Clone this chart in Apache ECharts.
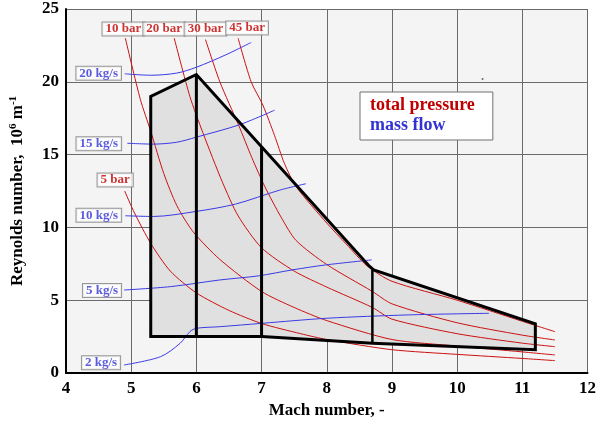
<!DOCTYPE html>
<html>
<head>
<meta charset="utf-8">
<script src="https://cdn.jsdelivr.net/npm/echarts@6/dist/echarts.min.js"></script>
<style>html,body{margin:0;padding:0;background:#fff;}#c{width:599px;height:427px;}</style>
</head>
<body>
<div id="c"></div>
<script>
// ---- data (Mach number, Reynolds number 10^6/m) ----
const xTicks = [4, 5, 6, 7, 8, 9, 10, 11, 12];
const yTicks = [0, 5, 10, 15, 20, 25];

const pressureNames = ['5 bar', '10 bar', '20 bar', '30 bar', '45 bar'];
const p5  = [[4.9,12.5],[5.05,11.0],[5.3,8.9],[5.6,7.0],[6.0,5.5],[6.5,4.3],[7.0,3.4],[7.6,2.7],[8.0,2.3],[9.0,1.6],[10.0,1.28],[11.0,1.0],[11.5,0.85]];
const p10 = [[4.91,23.0],[5.14,18.8],[5.3,16.6],[5.5,13.7],[5.7,11.5],[5.95,9.7],[6.36,7.8],[7.0,5.6],[7.5,4.5],[8.0,3.6],[9.0,2.3],[10.0,1.85],[11.0,1.45],[11.5,1.24]];
const p20 = [[5.66,23.0],[5.9,19.0],[6.1,16.5],[6.4,13.1],[6.64,10.8],[7.0,8.6],[7.5,7.0],[8.0,5.9],[8.7,4.5],[9.0,3.7],[10.0,2.7],[11.0,2.05],[11.5,1.81]];
const p30 = [[6.14,22.9],[6.36,20.0],[6.65,17.0],[6.85,14.8],[7.05,12.8],[7.3,10.7],[7.53,9.1],[8.0,7.45],[8.7,5.6],[9.0,4.75],[10.0,3.45],[11.0,2.6],[11.5,2.27]];
const p45 = [[6.64,23.0],[6.84,20.0],[7.02,18.4],[7.2,16.3],[7.35,14.4],[7.53,12.8],[8.0,10.3],[8.3,8.85],[8.62,7.35],[9.0,6.3],[10.0,5.0],[11.0,3.55],[11.5,2.84]];

const flowNames = ['20 kg/s', '15 kg/s', '10 kg/s', '5 kg/s', '2 kg/s'];
const m20 = [[4.9,20.55],[5.3,20.45],[5.7,20.6],[6.0,21.0],[6.45,21.85],[6.84,22.7]];
const m15 = [[4.94,15.78],[5.34,15.72],[5.7,15.85],[6.0,16.2],[6.66,17.05],[7.2,18.05]];
const m10 = [[4.91,10.8],[5.34,10.75],[6.0,11.1],[6.6,11.6],[7.27,12.55],[7.68,13.0]];
const m5  = [[4.89,5.7],[5.6,5.93],[6.36,6.39],[6.95,6.67],[7.47,7.08],[7.98,7.42],[8.69,7.77]];
const m2  = [[4.89,0.55],[5.45,1.12],[5.75,2.04],[5.9,2.84],[6.0,3.07],[6.36,3.18],[7.0,3.41],[8.0,3.76],[9.25,3.99],[10.49,4.1]];

const envelope = [[5.3,2.5],[5.3,19.0],[6.0,20.5],[8.64,7.4],[8.72,7.08],[11.2,3.37],[11.2,1.6],[8.7,2.05],[7.0,2.5]];
const dividers = [[[6.0,20.5],[6.0,2.5]], [[7.0,15.5],[7.0,2.5]], [[8.7,7.08],[8.7,2.05]]];
const strayDot = [[10.39, 20.2]];

// ---- styles ----
const RED = '#cc1111', RED_TXT = '#c00000', BLUE = '#3a3ae6', BLUE_TXT = '#3232d2';
const SERIF = '"Liberation Serif", "DejaVu Serif", serif';
const pressureCurves = [p5, p10, p20, p30, p45];
const flowCurves = [m20, m15, m10, m5, m2];
const pressureOffsets = [[-9.5,-11],[-2,-9],[-10,-9],[0,-10.5],[9,-10]];
const flowOffsets = [[-26,-0.5],[-28.5,0.6],[-26.5,-0.4],[-22,0.4],[-23,-2.3]];

const boxLabel = (color) => ({
  show: true, position: 'inside', color: color, fontFamily: SERIF, fontWeight: 'bold',
  fontSize: 13, lineHeight: 12, backgroundColor: '#fff', borderColor: '#808080', borderWidth: 1,
  padding: [1, 3, 0, 3], formatter: (p) => p.name
});

const series = [];
series.push({
  type: 'custom', name: 'envelope', z: 1, silent: true,
  data: [0],
  renderItem: function (params, api) {
    const pts = envelope.map(p => api.coord(p));
    return { type: 'polygon', shape: { points: pts }, style: { fill: '#e0e0e0', stroke: null } };
  }
});
pressureCurves.forEach((d, i) => series.push({
  type: 'line', name: 'total pressure', data: d, showSymbol: false, smooth: 0.25, z: 3,
  lineStyle: { color: RED, width: 1 }, itemStyle: { color: RED_TXT }
}));
flowCurves.forEach((d, i) => series.push({
  type: 'line', name: 'mass flow', data: d, showSymbol: false, smooth: 0.3, z: 3,
  lineStyle: { color: BLUE, width: 1 }, itemStyle: { color: BLUE_TXT }
}));
series.push({
  type: 'custom', name: 'outline', z: 5, silent: true, data: [0],
  renderItem: function (params, api) {
    const pts = envelope.map(p => api.coord(p));
    const children = [{ type: 'polygon', shape: { points: pts }, style: { fill: null, stroke: '#000', lineWidth: 3, lineJoin: 'miter' } }];
    dividers.forEach((seg, k) => children.push({
      type: 'polyline', shape: { points: seg.map(p => api.coord(p)) },
      style: { stroke: '#000', lineWidth: k === 2 ? 2.5 : 3, fill: null }
    }));
    return { type: 'group', children: children };
  }
});
series.push({
  type: 'scatter', name: 'pLabels', z: 10, symbolSize: 0, silent: true,
  data: pressureCurves.map((d, i) => ({ name: pressureNames[i], value: d[0], label: { offset: pressureOffsets[i] } })),
  label: boxLabel(RED_TXT)
});
series.push({
  type: 'scatter', name: 'fLabels', z: 10, symbolSize: 0, silent: true,
  data: flowCurves.map((d, i) => ({ name: flowNames[i], value: d[0], label: { offset: flowOffsets[i] } })),
  label: boxLabel(BLUE_TXT)
});
series.push({
  type: 'scatter', name: 'dot', z: 4, symbolSize: 2, silent: true, data: strayDot,
  itemStyle: { color: '#444' }
});

const chart = echarts.init(document.getElementById('c'), null, { renderer: 'canvas' });
chart.setOption({
  animation: false,
  backgroundColor: '#ffffff',
  grid: { left: 65, right: 8, top: 9, bottom: 54, show: true, backgroundColor: '#f4f4f4', borderWidth: 0 },
  legend: {
    data: [
      { name: 'total pressure', icon: 'none', textStyle: { color: RED_TXT } },
      { name: 'mass flow', icon: 'none', textStyle: { color: BLUE_TXT } }
    ],
    orient: 'vertical', left: 360, top: 92, itemWidth: 0, itemHeight: 10, itemGap: 2,
    padding: [4, 18, 6, 5], backgroundColor: '#fff', borderColor: '#707070', borderWidth: 1,
    selectedMode: false,
    textStyle: { fontFamily: SERIF, fontWeight: 'bold', fontSize: 18, lineHeight: 17 }
  },
  xAxis: {
    type: 'value', min: 4, max: 12, interval: 1,
    name: 'Mach number, -', nameLocation: 'middle', nameGap: 29,
    nameTextStyle: { fontFamily: SERIF, fontWeight: 'bold', fontSize: 17, color: '#000' },
    axisLine: { show: true, onZero: false, lineStyle: { color: '#000', width: 2 } },
    axisTick: { show: false },
    axisLabel: { color: '#000', fontFamily: SERIF, fontWeight: 'bold', fontSize: 17, margin: 7,
      formatter: v => xTicks.includes(v) ? String(v) : '' },
    splitLine: { show: true, lineStyle: { color: '#6a6a6a', width: 1 } }
  },
  yAxis: {
    type: 'value', min: 0, max: 25, interval: 5,
    name: '{a|Reynolds number,  10}{s|6}{a| m}{s|-1}', nameLocation: 'middle', nameGap: 38, nameRotate: 90,
    nameTextStyle: { rich: {
      a: { fontFamily: SERIF, fontWeight: 'bold', fontSize: 17, color: '#000', lineHeight: 20 },
      s: { fontFamily: SERIF, fontWeight: 'bold', fontSize: 11, color: '#000', verticalAlign: 'top', lineHeight: 20, padding: [0, 0, 8, 0] }
    } },
    axisLine: { show: true, onZero: false, lineStyle: { color: '#000', width: 2 } },
    axisTick: { show: false },
    axisLabel: { color: '#000', fontFamily: SERIF, fontWeight: 'bold', fontSize: 17, margin: 7,
      formatter: v => yTicks.includes(v) ? String(v) : '' },
    splitLine: { show: true, lineStyle: { color: '#6a6a6a', width: 1 } }
  },
  series: series
});
</script>
</body>
</html>
